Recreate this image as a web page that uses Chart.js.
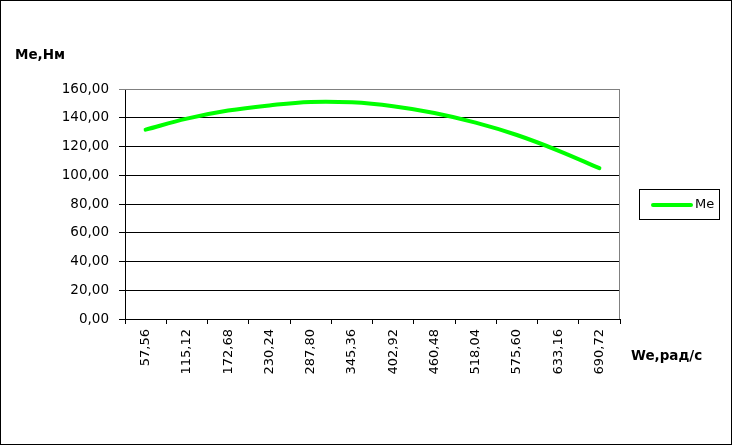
<!DOCTYPE html>
<html>
<head>
<meta charset="utf-8">
<script src="https://cdn.jsdelivr.net/npm/chart.js@4"></script>
<style>
  body{margin:0;background:#fff;}
  #wrap{position:relative;width:732px;height:445px;font-family:"DejaVu Sans",sans-serif;color:#000;}
  #wrap canvas{position:absolute;left:0;top:0;}
  #frame{position:absolute;left:0;top:0;width:732px;height:445px;border:1px solid #000;box-sizing:border-box;pointer-events:none;}
  .ttl{position:absolute;font-weight:bold;font-size:13.5px;white-space:nowrap;}
  #legend{position:absolute;left:639px;top:189px;width:81px;height:31px;border:1px solid #000;box-sizing:border-box;font-size:13px;}
  #legend i{position:absolute;left:11px;top:13px;width:42px;height:4px;background:#00ff00;border-radius:2px;}
  #legend span{position:absolute;left:55px;top:6px;}
</style>
</head>
<body>
<div id="wrap">
  <canvas id="chart" width="732" height="445"></canvas>
  <div class="ttl" style="left:15px;top:46px;">Ме,Нм</div>
  <div class="ttl" style="left:631px;top:347px;">We,рад/с</div>
  <div id="legend"><i></i><span>Ме</span></div>
  <div id="frame"></div>
</div>
<script>
// engine speed, rad/s
const speeds = ['57,56','115,12','172,68','230,24','287,80','345,36','402,92','460,48','518,04','575,60','633,16','690,72'];
// torque Me, N*m
const torque = [131.7, 139.4, 145.0, 148.6, 151.0, 150.7, 148.0, 143.3, 136.6, 128.0, 117.2, 104.9];
const yTicks = [0, 20, 40, 60, 80, 100, 120, 140, 160];

const fmt = v => v.toFixed(2).replace('.', ',');

// gray frame on the top and right of the plot area
const plotFrame = {
  id:'plotFrame',
  afterDraw(chart){
    const a = chart.chartArea, c = chart.ctx;
    c.save();
    c.strokeStyle = '#808080';
    c.lineWidth = 1;
    c.beginPath();
    c.moveTo(a.left, a.top + 0.5);
    c.lineTo(a.right - 0.5, a.top + 0.5);
    c.lineTo(a.right - 0.5, a.bottom);
    c.stroke();
    c.restore();
  }
};

new Chart(document.getElementById('chart'), {
  type:'line',
  data:{
    labels: speeds,
    datasets:[{
      label:'Ме',
      data: torque,
      borderColor:'#00ff00',
      borderWidth:4,
      borderCapStyle:'round',
      pointRadius:0,
      tension:0.4,
      fill:false
    }]
  },
  options:{
    responsive:false,
    animation:false,
    layout:{ padding:{ left:0, right:112, top:89, bottom:0 } },
    plugins:{ legend:{ display:false }, tooltip:{ enabled:false } },
    scales:{
      x:{
        offset:true,
        afterFit: s => { s.height = 126; },
        grid:{ offset:true, drawOnChartArea:false, drawTicks:true, tickLength:5, color:'#000' },
        border:{ color:'#000', width:1 },
        ticks:{ minRotation:90, maxRotation:90, autoSkip:false, padding:5, color:'#000',
                font:{ family:'DejaVu Sans', size:13 } }
      },
      y:{
        min:0, max:160,
        afterFit: s => { s.width = 125; },
        afterBuildTicks: s => { s.ticks = yTicks.map(v => ({ value:v })); },
        grid:{ color: ctx => ctx.tick && ctx.tick.value === 160 ? '#808080' : '#000', tickLength:6, lineWidth:1 },
        border:{ color:'#000', width:1 },
        ticks:{ padding:10, color:'#000', callback: v => fmt(v),
                font:{ family:'DejaVu Sans', size:13.5 } }
      }
    }
  },
  plugins:[plotFrame]
});
</script>
</body>
</html>
